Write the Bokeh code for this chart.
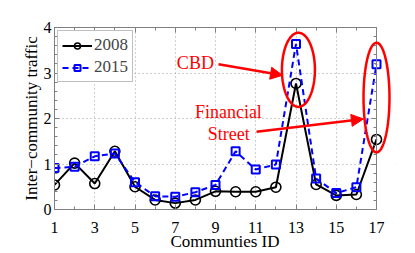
import numpy as np
from bokeh.plotting import figure
from bokeh.models import (Range1d, LinearAxis, Legend, LegendItem, Label, Arrow,
                          NormalHead, PolyAnnotation, FixedTicker, BoxAnnotation)
from bokeh.embed import file_html
from bokeh.resources import INLINE

communities = list(range(1, 18))
traffic_2008 = [0.54, 1.02, 0.57, 1.28, 0.50, 0.21, 0.14, 0.21, 0.40, 0.39, 0.39, 0.49, 2.77, 0.55, 0.31, 0.33, 1.54]
traffic_2015 = [0.91, 0.94, 1.17, 1.23, 0.60, 0.29, 0.28, 0.38, 0.54, 1.28, 0.88, 0.99, 3.64, 0.68, 0.36, 0.49, 3.19]
x_ticks = [1, 3, 5, 7, 9, 11, 13, 15, 17]
y_ticks = [0, 1, 2, 3, 4]

FONT = "Liberation Serif"
GRAY = "#808080"
X_END = 17.944   # frame extends past 17 so the right-hand ellipse is not clipped

p = figure(width=415, height=253, output_backend="svg", toolbar_location=None,
           x_range=Range1d(1, X_END), y_range=Range1d(0, 4),
           min_border_left=54, min_border_right=20, min_border_top=27, min_border_bottom=42,
           x_axis_location=None, y_axis_location=None)
p.outline_line_color = None
p.background_fill_color = "white"
p.border_fill_color = "white"

def style_axis(ax, ticks, labels=True):
    ax.axis_line_color = GRAY
    ax.major_tick_line_color = GRAY
    ax.minor_tick_line_color = GRAY
    ax.major_tick_in = 5
    ax.major_tick_out = 0
    ax.minor_tick_in = 3
    ax.minor_tick_out = 0
    ax.major_label_text_font = FONT
    ax.major_label_text_font_size = "16px"
    ax.major_label_text_color = "black"
    if not labels:
        ax.major_label_overrides = {t: "" for t in ticks}
        ax.major_label_standoff = 0
    ax.axis_label_text_font = FONT
    ax.axis_label_text_font_size = "17px"
    ax.axis_label_text_font_style = "normal"
    ax.axis_label_text_color = "black"

xt = FixedTicker(ticks=x_ticks, minor_ticks=communities)
yt = FixedTicker(ticks=y_ticks, minor_ticks=list(np.round(np.arange(0, 4.01, 0.2), 2)))

xb = LinearAxis(ticker=xt, axis_label="Communties ID", bounds=(1, 17))
style_axis(xb, x_ticks)
xb.major_label_standoff = 12
xb.axis_label_standoff = -4
p.add_layout(xb, "below")
xa = LinearAxis(ticker=xt, bounds=(1, 17))
style_axis(xa, x_ticks, labels=False)
p.add_layout(xa, "above")
yl = LinearAxis(ticker=yt, axis_label="Inter\u2212community traffic")
style_axis(yl, y_ticks)
yl.major_label_standoff = 3
yl.axis_label_standoff = 0
p.add_layout(yl, "left")
yr = LinearAxis(ticker=yt, fixed_location=17)
style_axis(yr, y_ticks, labels=False)
p.add_layout(yr, "right")

p.xgrid.ticker = xt
p.ygrid.ticker = yt
for g in (p.xgrid, p.ygrid):
    g.grid_line_color = "#a0a0a0"
    g.grid_line_dash = "1 3"
    g.grid_line_width = 1

# blank out the strip right of the axis box
p.add_layout(BoxAnnotation(left=17, fill_color="white", fill_alpha=1, line_color=None,
                           level="underlay"))

l08 = p.line(communities, traffic_2008, line_color="black", line_width=2)
m08 = p.scatter(communities, traffic_2008, marker="circle", size=10, line_color="black",
                line_width=1.6, fill_alpha=0)
l15 = p.line(communities, traffic_2015, line_color="blue", line_width=2, line_dash="6 4")
m15 = p.scatter(communities, traffic_2015, marker="square", size=8, line_color="blue",
                line_width=2, fill_alpha=0)

legend = Legend(items=[LegendItem(label="2008", renderers=[l08, m08]),
                       LegendItem(label="2015", renderers=[l15, m15])],
                location="top_left")
legend.label_text_font = FONT
legend.label_text_font_size = "17px"
legend.glyph_width = 30
legend.glyph_height = 15
legend.label_height = 15
legend.label_standoff = 2
legend.spacing = 2
legend.padding = 4
legend.margin = 3
legend.border_line_color = GRAY
legend.border_line_width = 1
legend.background_fill_alpha = 1
p.add_layout(legend)

# exponent label
p.add_layout(Label(x=1, y=189, x_units="screen", y_units="screen", text="x 10",
                   text_font=FONT, text_font_size="16px", text_baseline="alphabetic"))
p.add_layout(Label(x=35, y=200, x_units="screen", y_units="screen", text="10",
                   text_font=FONT, text_font_size="11px", text_baseline="alphabetic"))

RED = "#ff0000"
# annotation: ellipses (center x, center y, width, height in data units)
ellipses = [(13.12, 3.07, 1.64, 1.63), (17.0, 2.46, 1.29, 2.41)]
t = np.linspace(0, 2 * np.pi, 90)
for cx, cy, w, h in ellipses:
    p.add_layout(PolyAnnotation(xs=list(cx + w / 2 * np.cos(t)), ys=list(cy + h / 2 * np.sin(t)),
                                fill_alpha=0, line_color=RED, line_alpha=1, line_width=2.5))

# texts
p.add_layout(Label(x=8.0, y=3.21, text="CBD", text_font=FONT, text_font_size="18px",
                   text_color=RED, text_align="center", text_baseline="middle"))
p.add_layout(Label(x=9.64, y=2.15, text="Financial", text_font=FONT, text_font_size="18px",
                   text_color=RED, text_align="center", text_baseline="middle"))
p.add_layout(Label(x=9.66, y=1.67, text="Street", text_font=FONT, text_font_size="18px",
                   text_color=RED, text_align="center", text_baseline="middle"))

# arrows (start x, start y, end x, end y)
arrows = [(9.15, 3.19, 12.33, 2.95), (11.04, 1.71, 16.35, 1.99)]
for x0, y0, x1, y1 in arrows:
    p.add_layout(Arrow(x_start=x0, y_start=y0, x_end=x1, y_end=y1, line_color=RED, line_width=2.5,
                       end=NormalHead(size=12, fill_color=RED, line_color=RED, line_width=1)))

open("out.html", "w").write(file_html(p, INLINE))
